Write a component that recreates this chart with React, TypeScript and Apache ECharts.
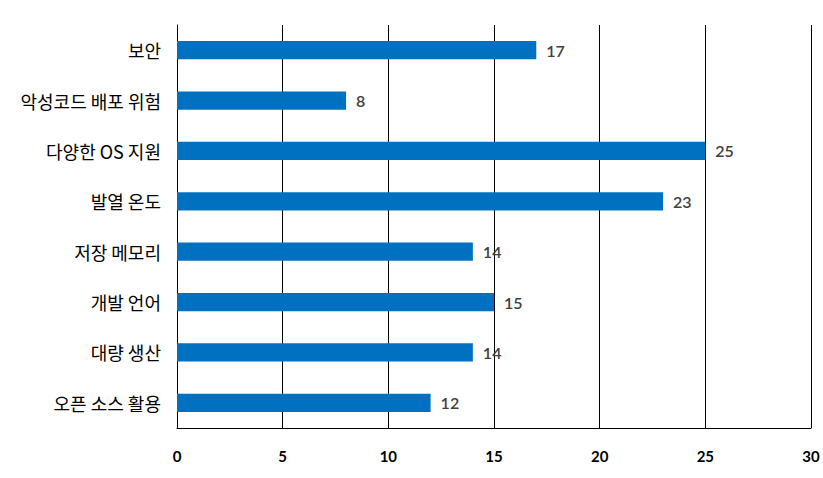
import React, { useEffect, useRef } from "react";
import * as echarts from "echarts";

const categories = ["보안", "악성코드 배포 위험", "다양한 OS 지원", "발열 온도", "저장 메모리", "개발 언어", "대량 생산", "오픈 소스 활용"];
const values = [17, 8, 25, 23, 14, 15, 14, 12];

export default function App() {
  const ref = useRef<HTMLDivElement>(null);
  useEffect(() => {
    const chart = echarts.init(ref.current!, undefined, { renderer: "svg" });
    chart.setOption({
      animation: false,
      grid: { left: 177, right: 12, top: 25, bottom: 50, containLabel: false },
      xAxis: {
        type: "value",
        min: 0,
        max: 30,
        interval: 5,
        axisLine: { show: true, lineStyle: { color: "#000", width: 1 } },
        axisTick: { show: false },
        axisLabel: { color: "#000", fontSize: 15, fontWeight: "bold", margin: 20, fontFamily: "Lato, sans-serif" },
        splitLine: { show: true, lineStyle: { color: "#000", width: 1 } },
      },
      yAxis: {
        type: "category",
        inverse: true,
        data: categories,
        axisLine: { show: true, lineStyle: { color: "#000", width: 1 } },
        axisTick: { show: false },
        axisLabel: { color: "#000", fontSize: 18, margin: 16, fontFamily: "'Noto Sans CJK KR', sans-serif" },
      },
      series: [
        {
          type: "bar",
          data: values,
          barWidth: "36%",
          itemStyle: { color: "#0070C0" },
          label: {
            show: true,
            position: "right",
            distance: 10,
            color: "#404040",
            fontSize: 16,
            fontWeight: 600,
            fontFamily: "Lato, sans-serif",
          },
        },
      ],
    });
    return () => chart.dispose();
  }, []);
  return <div ref={ref} style={{ width: 823, height: 478, position: "absolute", left: 0, top: 0 }} />;
}
